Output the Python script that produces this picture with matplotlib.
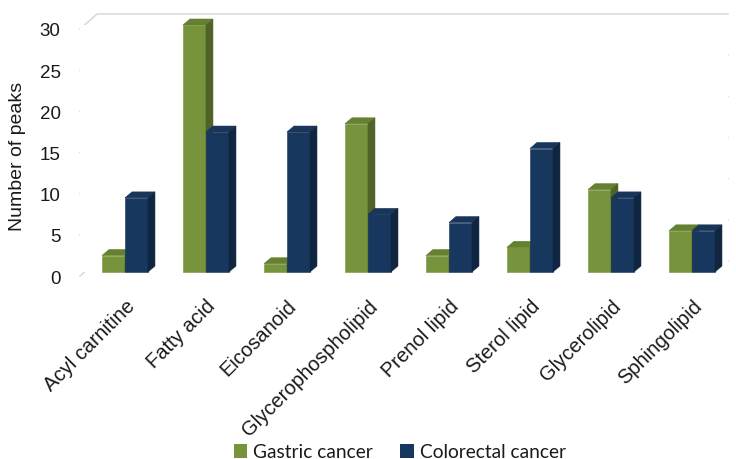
import matplotlib
matplotlib.use("Agg")
import matplotlib.pyplot as plt
from matplotlib.patches import Polygon, Patch
from matplotlib.lines import Line2D
from matplotlib.transforms import ScaledTranslation

categories = ["Acyl carnitine", "Fatty acid", "Eicosanoid", "Glycerophospholipid",
              "Prenol lipid", "Sterol lipid", "Glycerolipid", "Sphingolipid"]
gastric = [2, 30, 1, 18, 2, 3, 10, 5]
colorectal = [9, 17, 17, 7, 6, 15, 9, 5]
yticks = [0, 5, 10, 15, 20, 25, 30]
series_names = ["Gastric cancer", "Colorectal cancer"]

# front / top / side shades for each series
green = ("#77933C", "#65802F", "#4F6228")
blue = ("#17375E", "#1A355A", "#10253F")

plt.rcParams["font.family"] = ["Liberation Sans", "DejaVu Sans"]

W, H, DPI = 736, 460, 100
fig = plt.figure(figsize=(W / DPI, H / DPI), dpi=DPI)

# axes box in pixels (top-down): left 80, right 728, value 0 at 273, value 30 at 26
left_px, right_px, base_px, top_px = 80, 728, 273, 26
ax = fig.add_axes([left_px / W, (H - base_px) / H,
                   (right_px - left_px) / W, (base_px - top_px) / H])
ax.set_xlim(-0.555, 7.445)
ax.set_ylim(0, 30)
for s in ax.spines.values():
    s.set_visible(False)
ax.set_xticks([])
ax.set_yticks(yticks)
ax.tick_params(axis="y", length=0, pad=14, labelsize=13.5, labelcolor="#1A1A1A")
shift = ScaledTranslation(0, -4 / DPI, fig.dpi_scale_trans)
for lab in ax.get_yticklabels():
    lab.set_transform(lab.get_transform() + shift)

fig.canvas.draw()
to_disp = ax.transData.transform

# perspective gridlines: short diagonal from the front edge, then along the back wall
x_left_disp = to_disp((ax.get_xlim()[0], 0))[0]
x_right_disp = to_disp((ax.get_xlim()[1], 0))[0]
for v in yticks:
    y = to_disp((0, v))[1]
    xs = [x_left_disp, x_left_disp + 17, x_right_disp]
    ys = [y - 4, y + 11, y + 11]
    fig.add_artist(Line2D(xs, ys, transform=None, color="#D9D9D9", lw=1.1, zorder=0))

bw = 0.284
dx, dy = 7, 6


def bar3d(x0, h, shades):
    front, top, side = shades
    (xa, ya) = to_disp((x0, 0))
    (xb, yb) = to_disp((x0 + bw, h))
    faces = [
        ([(xa, ya), (xb, ya), (xb, yb), (xa, yb)], front),
        ([(xa, yb), (xb, yb), (xb + dx, yb + dy), (xa + dx, yb + dy)], top),
        ([(xb, ya), (xb + dx, ya + dy), (xb + dx, yb + dy), (xb, yb)], side),
    ]
    for pts, c in faces:
        fig.add_artist(Polygon(pts, closed=True, transform=None, facecolor=c,
                               edgecolor=c, lw=0.4, zorder=2))


for i in range(len(categories)):
    bar3d(i - bw, gastric[i], green)
    bar3d(i, colorectal[i], blue)

# rotated category labels, anchored at each group's centre
for i, name in enumerate(categories):
    x, y = to_disp((i, 0))
    fig.text(x / W, (y - 24) / H, name, rotation=45, ha="right", va="top",
             rotation_mode="anchor", fontsize=14.5, color="#1A1A1A")

fig.text(18 / W, 1 - 156 / H, "Number of peaks", rotation=90, ha="center",
         va="center", fontsize=14, color="#1A1A1A")

handles = [Patch(facecolor=green[0], edgecolor="none"),
           Patch(facecolor=blue[0], edgecolor="none")]
fig.legend(handles, series_names, loc="center", bbox_to_anchor=(0.543, 1 - 453 / H),
           ncol=2, frameon=False, handlelength=0.7, handleheight=0.7,
           handletextpad=0.3, columnspacing=1.45,
           prop={"family": ["Lato", "DejaVu Sans"], "size": 13.8}, labelcolor="#1A1A1A")

fig.savefig("out.png", dpi=DPI)
